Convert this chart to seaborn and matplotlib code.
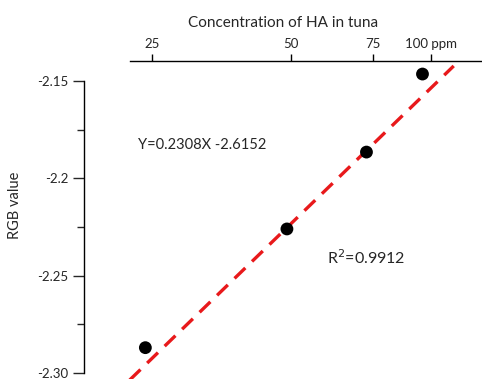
import numpy as np
import pandas as pd
import matplotlib
matplotlib.use("Agg")
import matplotlib.pyplot as plt
import matplotlib.ticker as mticker
import seaborn as sns

sns.set_style("white")
plt.rcParams["font.family"] = ["Lato", "DejaVu Sans"]

# data
conc = [24.2, 48.9, 72.6, 95.9]            # ppm HA
rgb = [-2.287, -2.226, -2.1865, -2.1464]   # RGB value
slope = 0.2308
intercept = -2.6152
fit_x = [17, 112]

x_ticks = [25, 50, 75, 100]
x_tick_labels = ["25", "50", "75", "100 ppm"]
y_ticks = [-2.30, -2.25, -2.2, -2.15]
y_tick_labels = ["-2.30", "-2.25", "-2.2", "-2.15"]
y_minor = [-2.275, -2.225, -2.175]

df = pd.DataFrame({"conc": conc, "rgb": rgb})
fit = pd.DataFrame({"conc": fit_x})
fit["rgb"] = slope * np.log10(fit["conc"]) + intercept

W, H = 482, 379
fig = plt.figure(figsize=(W / 100, H / 100), dpi=100)
ax = fig.add_axes([84 / W, 0, 1 - 84 / W, 1 - 61 / H])

sns.lineplot(data=fit, x="conc", y="rgb", ax=ax, color="#e8191b", lw=2.4,
             linestyle=(0, (4.5, 2.8)))
sns.scatterplot(data=df, x="conc", y="rgb", ax=ax, color="black", s=85,
                edgecolor="none", zorder=3)

ax.set_xscale("log")
ax.set_xlim(17.84, 128.9)
ax.set_ylim(-2.3031, -2.1397)

# top axis
ax.xaxis.set_ticks_position("top")
ax.xaxis.set_label_position("top")
ax.set_xticks(x_ticks)
ax.set_xticklabels(x_tick_labels)
ax.xaxis.set_minor_locator(mticker.NullLocator())
ax.set_xlabel("Concentration of HA in tuna", fontsize=11, labelpad=8)
ax.tick_params(axis="x", direction="out", length=5, width=1, pad=3,
               labelsize=9.5, color="black")

# left axis
ax.set_yticks(y_ticks)
ax.set_yticklabels(y_tick_labels)
ax.set_yticks(y_minor, minor=True)
ax.tick_params(axis="y", which="major", direction="out", length=8, width=1,
               labelsize=9.5, pad=3, left=True)
ax.tick_params(axis="y", which="minor", direction="out", length=5, width=1,
               left=True)
ax.set_ylabel("")
fig.text(15 / W, 1 - 205 / H, "RGB value", rotation=90, fontsize=10.5,
         ha="center", va="center")

for side in ["bottom", "right"]:
    ax.spines[side].set_visible(False)
ax.spines["top"].set_bounds(22.41, 128.9)
ax.spines["left"].set_bounds(-2.30, -2.15)
for side in ["top", "left"]:
    ax.spines[side].set_color("black")
    ax.spines[side].set_linewidth(1)

# annotations placed in figure pixels (measured from the top-left)
fig.text(138 / W, 1 - 145 / H, "Y=0.2308X -2.6152", fontsize=10.5,
         va="center")
fig.text(327 / W, 1 - 258 / H, "R$^2$=0.9912", fontsize=11.5, va="center")

fig.savefig("out.png", dpi=100)
